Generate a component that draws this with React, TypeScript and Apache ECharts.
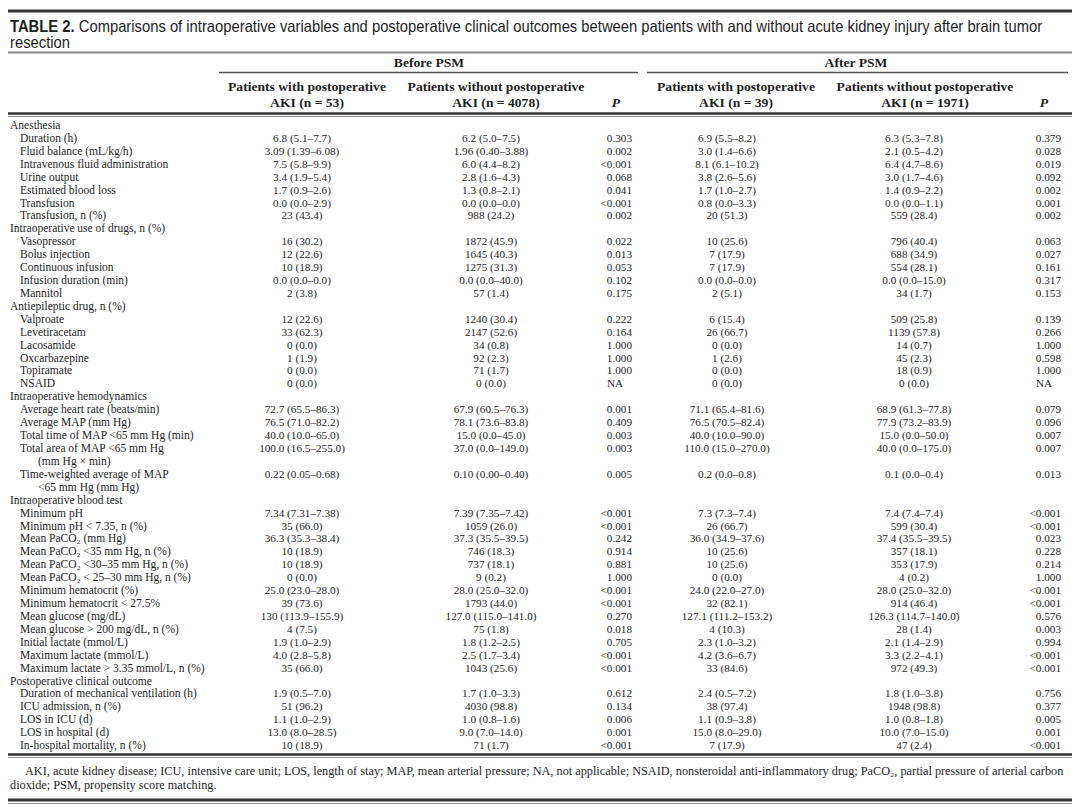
import React, { useEffect, useRef } from "react";
import * as echarts from "echarts";

const titleBold = "TABLE 2.";
const titleRest =
  " Comparisons of intraoperative variables and postoperative clinical outcomes between patients with and without acute kidney injury after brain tumor";
const titleLine2 = "resection";

const groupHeaders = ["Before PSM", "After PSM"];
const colHeadLine1 = [
  "Patients with postoperative",
  "Patients without postoperative",
  "",
  "Patients with postoperative",
  "Patients without postoperative",
  "",
];
const colHeadLine2 = ["AKI (n = 53)", "AKI (n = 4078)", "P", "AKI (n = 39)", "AKI (n = 1971)", "P"];

const rowLabels = [
  "Anesthesia",
  "Duration (h)",
  "Fluid balance (mL/kg/h)",
  "Intravenous fluid administration",
  "Urine output",
  "Estimated blood loss",
  "Transfusion",
  "Transfusion, n (%)",
  "Intraoperative use of drugs, n (%)",
  "Vasopressor",
  "Bolus injection",
  "Continuous infusion",
  "Infusion duration (min)",
  "Mannitol",
  "Antiepileptic drug, n (%)",
  "Valproate",
  "Levetiracetam",
  "Lacosamide",
  "Oxcarbazepine",
  "Topiramate",
  "NSAID",
  "Intraoperative hemodynamics",
  "Average heart rate (beats/min)",
  "Average MAP (mm Hg)",
  "Total time of MAP <65 mm Hg (min)",
  "Total area of MAP <65 mm Hg",
  "(mm Hg × min)",
  "Time-weighted average of MAP",
  "<65 mm Hg (mm Hg)",
  "Intraoperative blood test",
  "Minimum pH",
  "Minimum pH < 7.35, n (%)",
  "Mean PaCO₂ (mm Hg)",
  "Mean PaCO₂ <35 mm Hg, n (%)",
  "Mean PaCO₂ <30–35 mm Hg, n (%)",
  "Mean PaCO₂ < 25–30 mm Hg, n (%)",
  "Minimum hematocrit (%)",
  "Minimum hematocrit < 27.5%",
  "Mean glucose (mg/dL)",
  "Mean glucose > 200 mg/dL, n (%)",
  "Initial lactate (mmol/L)",
  "Maximum lactate (mmol/L)",
  "Maximum lactate > 3.35 mmol/L, n (%)",
  "Postoperative clinical outcome",
  "Duration of mechanical ventilation (h)",
  "ICU admission, n (%)",
  "LOS in ICU (d)",
  "LOS in hospital (d)",
  "In-hospital mortality, n (%)",
];

// 0 = section heading, 1 = item, 2 = wrapped continuation
const rowLevels = [
  0, 1, 1, 1, 1, 1, 1, 1,
  0, 1, 1, 1, 1, 1,
  0, 1, 1, 1, 1, 1, 1,
  0, 1, 1, 1, 1, 2, 1, 2,
  0, 1, 1, 1, 1, 1, 1, 1, 1, 1, 1, 1, 1, 1,
  0, 1, 1, 1, 1, 1,
];

const beforeWith = [
  "", "6.8 (5.1–7.7)", "3.09 (1.39–6.08)", "7.5 (5.8–9.9)", "3.4 (1.9–5.4)", "1.7 (0.9–2.6)", "0.0 (0.0–2.9)", "23 (43.4)",
  "", "16 (30.2)", "12 (22.6)", "10 (18.9)", "0.0 (0.0–0.0)", "2 (3.8)",
  "", "12 (22.6)", "33 (62.3)", "0 (0.0)", "1 (1.9)", "0 (0.0)", "0 (0.0)",
  "", "72.7 (65.5–86.3)", "76.5 (71.0–82.2)", "40.0 (10.0–65.0)", "100.0 (16.5–255.0)", "", "0.22 (0.05–0.68)", "",
  "", "7.34 (7.31–7.38)", "35 (66.0)", "36.3 (35.3–38.4)", "10 (18.9)", "10 (18.9)", "0 (0.0)", "25.0 (23.0–28.0)", "39 (73.6)", "130 (113.9–155.9)", "4 (7.5)", "1.9 (1.0–2.9)", "4.0 (2.8–5.8)", "35 (66.0)",
  "", "1.9 (0.5–7.0)", "51 (96.2)", "1.1 (1.0–2.9)", "13.0 (8.0–28.5)", "10 (18.9)",
];
const beforeWithout = [
  "", "6.2 (5.0–7.5)", "1.96 (0.40–3.88)", "6.0 (4.4–8.2)", "2.8 (1.6–4.3)", "1.3 (0.8–2.1)", "0.0 (0.0–0.0)", "988 (24.2)",
  "", "1872 (45.9)", "1645 (40.3)", "1275 (31.3)", "0.0 (0.0–40.0)", "57 (1.4)",
  "", "1240 (30.4)", "2147 (52.6)", "34 (0.8)", "92 (2.3)", "71 (1.7)", "0 (0.0)",
  "", "67.9 (60.5–76.3)", "78.1 (73.6–83.8)", "15.0 (0.0–45.0)", "37.0 (0.0–149.0)", "", "0.10 (0.00–0.40)", "",
  "", "7.39 (7.35–7.42)", "1059 (26.0)", "37.3 (35.5–39.5)", "746 (18.3)", "737 (18.1)", "9 (0.2)", "28.0 (25.0–32.0)", "1793 (44.0)", "127.0 (115.0–141.0)", "75 (1.8)", "1.8 (1.2–2.5)", "2.5 (1.7–3.4)", "1043 (25.6)",
  "", "1.7 (1.0–3.3)", "4030 (98.8)", "1.0 (0.8–1.6)", "9.0 (7.0–14.0)", "71 (1.7)",
];
const beforeP = [
  "", "0.303", "0.002", "<0.001", "0.068", "0.041", "<0.001", "0.002",
  "", "0.022", "0.013", "0.053", "0.102", "0.175",
  "", "0.222", "0.164", "1.000", "1.000", "1.000", "NA",
  "", "0.001", "0.409", "0.003", "0.003", "", "0.005", "",
  "", "<0.001", "<0.001", "0.242", "0.914", "0.881", "1.000", "<0.001", "<0.001", "0.270", "0.018", "0.705", "<0.001", "<0.001",
  "", "0.612", "0.134", "0.006", "0.001", "<0.001",
];
const afterWith = [
  "", "6.9 (5.5–8.2)", "3.0 (1.4–6.6)", "8.1 (6.1–10.2)", "3.8 (2.6–5.6)", "1.7 (1.0–2.7)", "0.8 (0.0–3.3)", "20 (51.3)",
  "", "10 (25.6)", "7 (17.9)", "7 (17.9)", "0.0 (0.0–0.0)", "2 (5.1)",
  "", "6 (15.4)", "26 (66.7)", "0 (0.0)", "1 (2.6)", "0 (0.0)", "0 (0.0)",
  "", "71.1 (65.4–81.6)", "76.5 (70.5–82.4)", "40.0 (10.0–90.0)", "110.0 (15.0–270.0)", "", "0.2 (0.0–0.8)", "",
  "", "7.3 (7.3–7.4)", "26 (66.7)", "36.0 (34.9–37.6)", "10 (25.6)", "10 (25.6)", "0 (0.0)", "24.0 (22.0–27.0)", "32 (82.1)", "127.1 (111.2–153.2)", "4 (10.3)", "2.3 (1.0–3.2)", "4.2 (3.6–6.7)", "33 (84.6)",
  "", "2.4 (0.5–7.2)", "38 (97.4)", "1.1 (0.9–3.8)", "15.0 (8.0–29.0)", "7 (17.9)",
];
const afterWithout = [
  "", "6.3 (5.3–7.8)", "2.1 (0.5–4.2)", "6.4 (4.7–8.6)", "3.0 (1.7–4.6)", "1.4 (0.9–2.2)", "0.0 (0.0–1.1)", "559 (28.4)",
  "", "796 (40.4)", "688 (34.9)", "554 (28.1)", "0.0 (0.0–15.0)", "34 (1.7)",
  "", "509 (25.8)", "1139 (57.8)", "14 (0.7)", "45 (2.3)", "18 (0.9)", "0 (0.0)",
  "", "68.9 (61.3–77.8)", "77.9 (73.2–83.9)", "15.0 (0.0–50.0)", "40.0 (0.0–175.0)", "", "0.1 (0.0–0.4)", "",
  "", "7.4 (7.4–7.4)", "599 (30.4)", "37.4 (35.5–39.5)", "357 (18.1)", "353 (17.9)", "4 (0.2)", "28.0 (25.0–32.0)", "914 (46.4)", "126.3 (114.7–140.0)", "28 (1.4)", "2.1 (1.4–2.9)", "3.3 (2.2–4.1)", "972 (49.3)",
  "", "1.8 (1.0–3.8)", "1948 (98.8)", "1.0 (0.8–1.8)", "10.0 (7.0–15.0)", "47 (2.4)",
];
const afterP = [
  "", "0.379", "0.028", "0.019", "0.092", "0.002", "0.001", "0.002",
  "", "0.063", "0.027", "0.161", "0.317", "0.153",
  "", "0.139", "0.266", "1.000", "0.598", "1.000", "NA",
  "", "0.079", "0.096", "0.007", "0.007", "", "0.013", "",
  "", "<0.001", "<0.001", "0.023", "0.228", "0.214", "1.000", "<0.001", "<0.001", "0.576", "0.003", "0.994", "<0.001", "<0.001",
  "", "0.756", "0.377", "0.005", "0.001", "<0.001",
];

const footLine1 =
  "AKI, acute kidney disease; ICU, intensive care unit; LOS, length of stay; MAP, mean arterial pressure; NA, not applicable; NSAID, nonsteroidal anti-inflammatory drug; PaCO₂, partial pressure of arterial carbon";
const footLine2 = "dioxide; PSM, propensity score matching.";

const SERIF = '"Liberation Serif", "Times New Roman", serif';
const SANS = '"Liberation Sans", Arial, sans-serif';
const INK = "#1e1e1e";

function measure(text: string, font: string): number {
  const c = document.createElement("canvas").getContext("2d");
  if (!c) return text.length * 6;
  c.font = font;
  return c.measureText(text).width;
}

function txt(x: number, y: number, text: string, font: string, align = "left", extra: any = {}) {
  return {
    type: "text",
    x,
    y,
    silent: true,
    style: {
      text,
      font,
      fill: INK,
      align,
      textAlign: align,
      verticalAlign: "middle",
      textVerticalAlign: "middle",
      ...extra,
    },
  };
}

function hline(x1: number, x2: number, y: number, w: number, color: string) {
  return {
    type: "line",
    silent: true,
    shape: { x1, y1: y, x2, y2: y },
    style: { stroke: color, lineWidth: w },
  };
}

export default function App() {
  const ref = useRef<HTMLDivElement>(null);

  useEffect(() => {
    if (!ref.current) return;
    const chart = echarts.init(ref.current, undefined, { renderer: "svg" });

    const els: any[] = [];

    // Title
    const titleFontB = `bold 16.5px ${SANS}`;
    const titleFont = `16.5px ${SANS}`;
    const wB = measure(titleBold, titleFontB);
    const wR = measure(titleRest, titleFont);
    const tScale = 1033 / (wB + wR);
    els.push({
      type: "group",
      x: 10,
      y: 26,
      scaleX: tScale,
      children: [txt(0, 0, titleBold, titleFontB), txt(wB, 0, titleRest, titleFont)],
    });
    els.push({
      type: "group",
      x: 10,
      y: 42,
      scaleX: tScale,
      children: [txt(0, 0, titleLine2, titleFont)],
    });

    // rules
    els.push(hline(8, 1072, 11, 3, "#333"));
    els.push(hline(8, 1072, 52.5, 2, "#8a8a8a"));

    // header
    const hFont = `bold 13.5px ${SERIF}`;
    const hScale = 158 / measure(colHeadLine1[0], hFont);
    const groupCenters = [429, 856];
    const groupSpans = [
      [219, 638],
      [647, 1068],
    ];
    groupHeaders.forEach((g, i) => {
      els.push({
        type: "group",
        x: groupCenters[i],
        y: 63,
        scaleX: hScale,
        children: [txt(0, 0, g, hFont, "center")],
      });
      els.push(hline(groupSpans[i][0], groupSpans[i][1], 72.5, 1.6, "#555"));
    });

    const colCenters = [302, 491, 0, 727, 914, 0];
    const pRight = [632, 1061];
    const hCenters = [307, 496, 616, 736, 925, 1044];
    colHeadLine1.forEach((t, i) => {
      if (t)
        els.push({
          type: "group",
          x: hCenters[i],
          y: 87,
          scaleX: hScale,
          children: [txt(0, 0, t, hFont, "center")],
        });
    });
    colHeadLine2.forEach((t, i) => {
      const isP = t === "P";
      els.push({
        type: "group",
        x: hCenters[i],
        y: 103,
        scaleX: hScale,
        children: [txt(0, 0, t, isP ? `italic bold 13.5px ${SERIF}` : hFont, "center")],
      });
    });
    els.push(hline(8, 1072, 113.5, 2.6, "#333"));
    els.push(hline(8, 1072, 116.5, 0.8, "#777"));

    // body
    const labelFont = `11.5px ${SERIF}`;
    const bodyFont = `11.2px ${SERIF}`;
    const y0 = 125;
    const pitch = 12.92;
    const indent = [10, 20, 38];
    const cols = [beforeWith, beforeWithout, beforeP, afterWith, afterWithout, afterP];
    rowLabels.forEach((label, r) => {
      const y = y0 + r * pitch;
      els.push(txt(indent[rowLevels[r]], y, label, labelFont));
      cols.forEach((col, c) => {
        const v = col[r];
        if (!v) return;
        if (c === 2 || c === 5) {
          const right = pRight[c === 2 ? 0 : 1];
          if (v === "NA") els.push(txt(right - 25, y, v, bodyFont, "left"));
          else els.push(txt(right, y, v, bodyFont, "right"));
        } else {
          els.push(txt(colCenters[c], y, v, bodyFont, "center"));
        }
      });
    });

    els.push(hline(8, 1072, 754.5, 2.6, "#333"));
    els.push(hline(8, 1072, 757.5, 0.8, "#777"));

    // footnote
    const fFont = `12.5px ${SERIF}`;
    const fScale = 1040 / measure(footLine1, fFont);
    els.push({
      type: "group",
      x: 25,
      y: 771,
      scaleX: fScale,
      children: [txt(0, 0, footLine1, fFont)],
    });
    els.push({
      type: "group",
      x: 10,
      y: 785,
      scaleX: fScale,
      children: [txt(0, 0, footLine2, fFont)],
    });
    els.push(hline(8, 1072, 800, 3, "#333"));
    els.push(hline(8, 1072, 803.5, 0.8, "#777"));

    chart.setOption({
      animation: false,
      backgroundColor: "#ffffff",
      graphic: { elements: els },
    });

    return () => chart.dispose();
  }, []);

  return (
    <div
      ref={ref}
      style={{ position: "absolute", left: 0, top: 0, width: 1080, height: 810, background: "#fff" }}
    />
  );
}
